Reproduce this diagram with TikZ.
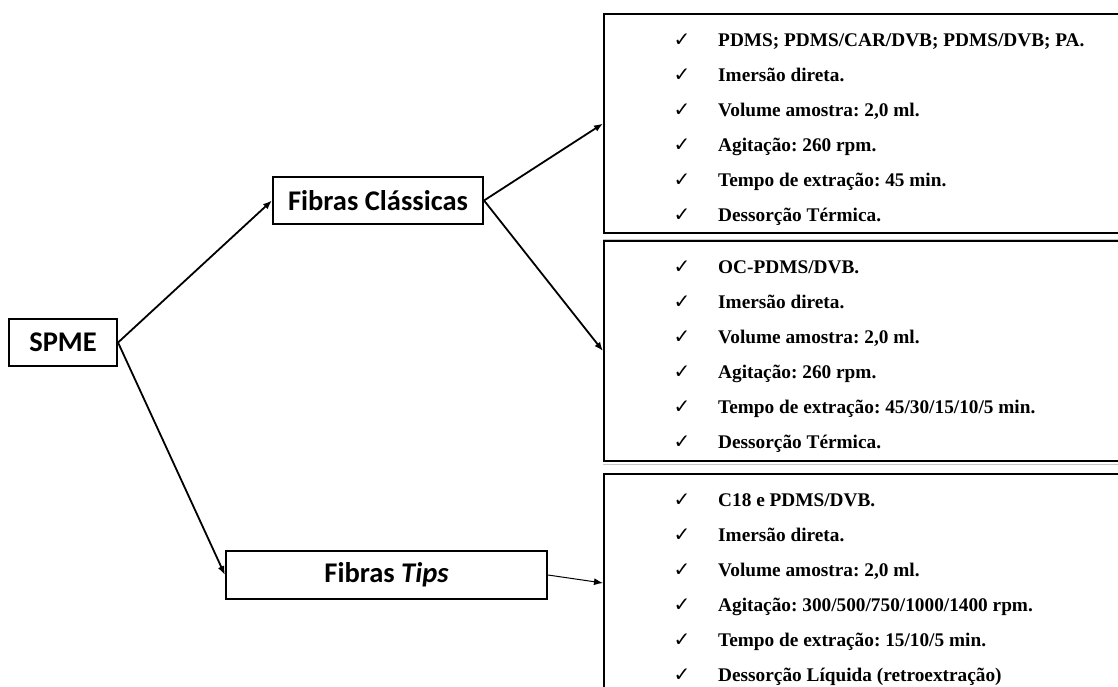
\documentclass[tikz,border=0pt]{standalone}
\usepackage{fontspec}
\setmainfont{Liberation Serif}
\newfontfamily\calfont{Carlito}
\newfontfamily\chkfont{DejaVu Sans}
\usetikzlibrary{arrows.meta}
\frenchspacing
\begin{document}
\begin{tikzpicture}[x=1pt,y=-1pt,
  lbox/.style={draw, line width=2.1pt, inner sep=0pt, font=\calfont\bfseries\fontsize{28.5}{32}\selectfont},
  rbox/.style={draw, line width=2.1pt, inner sep=0pt, anchor=north west, minimum width=560pt},
  arr/.style={line width=1.8pt, -{Latex[length=9pt,width=7pt]}},
  ck/.style={font=\chkfont\fontsize{20}{24}\selectfont, inner sep=0pt, anchor=base},
  item/.style={font=\frenchspacing\bfseries\fontsize{19.3}{22}\selectfont, anchor=base west, inner sep=0pt},
  sep/.style={draw=gray!45, line width=1pt}]
\useasboundingbox (0,0) rectangle (1118,686);
\clip (0,0) rectangle (1118,686);

% left boxes
\node[lbox, minimum width=108pt, minimum height=47pt] (spme) at (63,342.5) {SPME};
\node[lbox, minimum width=210pt, minimum height=47pt] (fc) at (378,200.5) {Fibras Clássicas};
\node[lbox, minimum width=321pt, minimum height=48pt] (tips) at (386.5,575) {Fibras \textit{Tips}};

% right boxes
\node[rbox, minimum height=219pt] (r1) at (603,13) {};
\node[rbox, minimum height=220pt] (r2) at (603,240) {};
\node[rbox, minimum height=240pt] (r3) at (603,473) {};
\coordinate (s1a) at (603,239);
\coordinate (s1b) at (1118,239);
\coordinate (s2a) at (603,464);
\coordinate (s2b) at (1118,464);
\draw[sep] (s1a) -- (s1b);
\draw[sep] (s2a) -- (s2b);

% check marks
\foreach \b/\top in {1/13, 2/240, 3/473} {
  \foreach \k/\off in {1/33, 2/68, 3/103, 4/138, 5/173, 6/208} {
    \node[ck] (c\b\k) at (682,\top+\off) {✓};
  }
}
% items
\node[item] (t11) at (718,46)  {PDMS; PDMS/CAR/DVB; PDMS/DVB; PA.};
\node[item] (t12) at (718,81)  {Imersão direta.};
\node[item] (t13) at (718,116) {Volume amostra: 2,0 ml.};
\node[item] (t14) at (718,151) {Agitação: 260 rpm.};
\node[item] (t15) at (718,186) {Tempo de extração: 45 min.};
\node[item] (t16) at (718,221) {Dessorção Térmica.};

\node[item] (t21) at (718,273) {OC-PDMS/DVB.};
\node[item] (t22) at (718,308) {Imersão direta.};
\node[item] (t23) at (718,343) {Volume amostra: 2,0 ml.};
\node[item] (t24) at (718,378) {Agitação: 260 rpm.};
\node[item] (t25) at (718,413) {Tempo de extração: 45/30/15/10/5 min.};
\node[item] (t26) at (718,448) {Dessorção Térmica.};

\node[item] (t31) at (718,506) {C18 e PDMS/DVB.};
\node[item] (t32) at (718,541) {Imersão direta.};
\node[item] (t33) at (718,576) {Volume amostra: 2,0 ml.};
\node[item] (t34) at (718,611) {Agitação: 300/500/750/1000/1400 rpm.};
\node[item] (t35) at (718,646) {Tempo de extração: 15/10/5 min.};
\node[item] (t36) at (718,681) {Dessorção Líquida (retroextração)};

% connectors
\coordinate (r3in) at (603,583);
\draw[arr] (spme.east) -- (fc.west);
\draw[arr] (spme.east) -- (tips.west);
\draw[arr] (fc.east) -- (r1.west);
\draw[arr] (fc.east) -- (r2.west);
\draw[arr, line width=1pt] (tips.east) -- (r3in);
\end{tikzpicture}
\end{document}
